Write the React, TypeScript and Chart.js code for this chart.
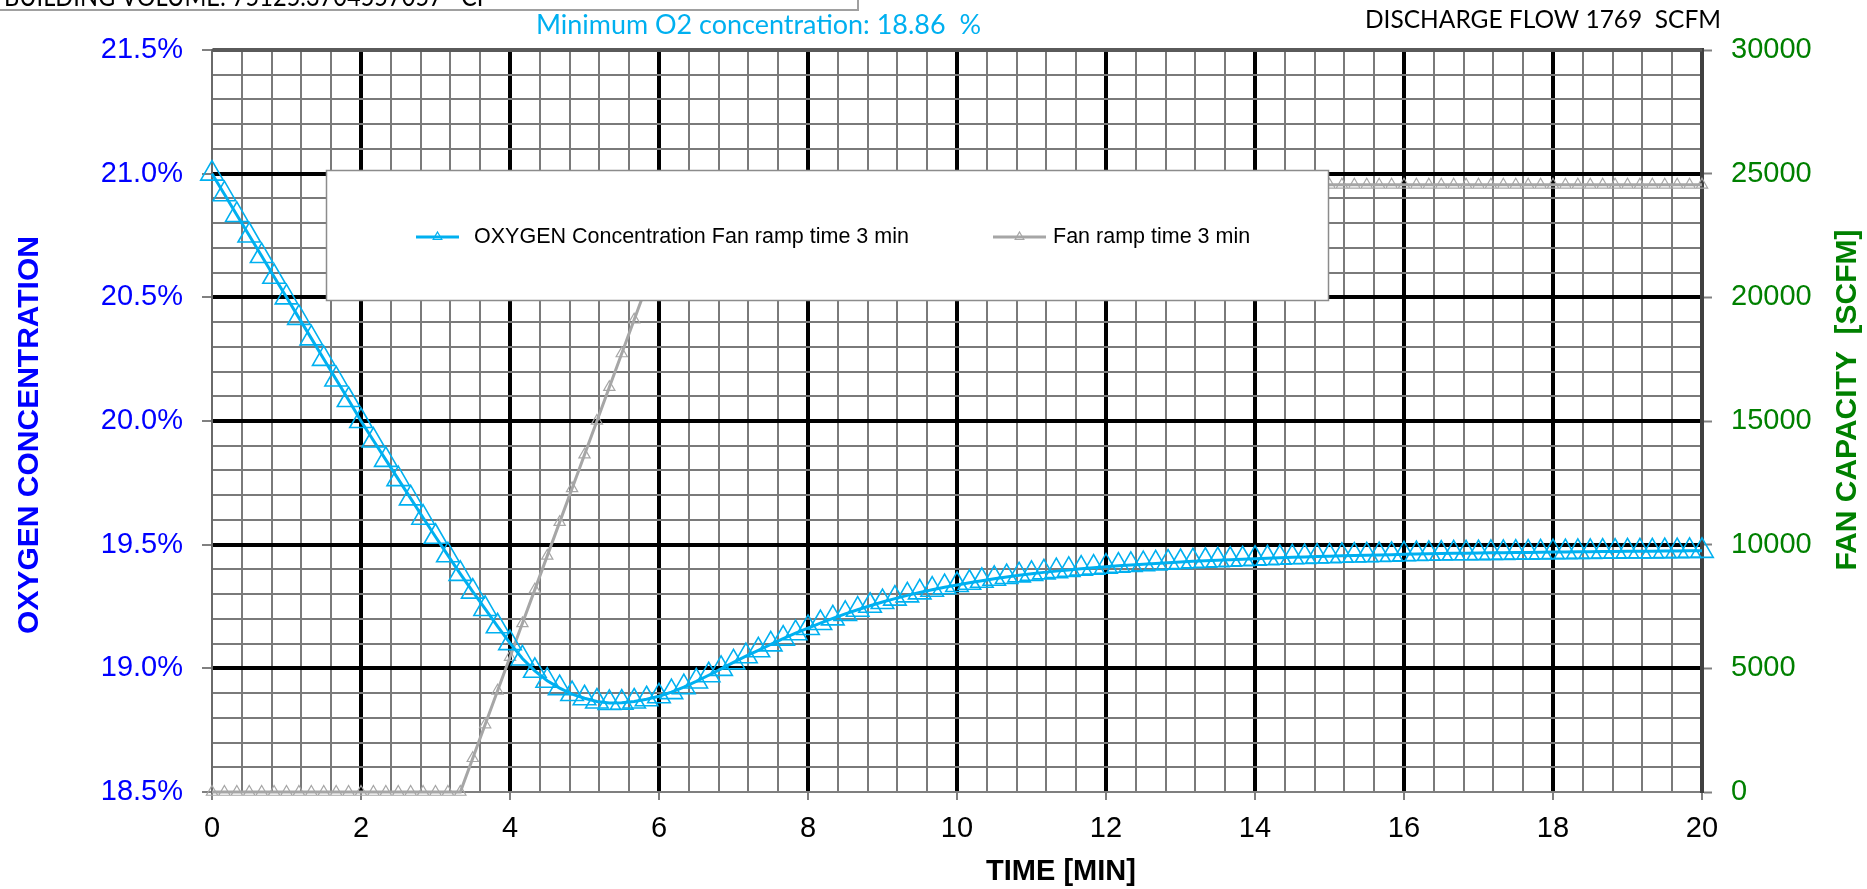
import React, { useEffect, useRef } from 'react';
import { Chart, registerables } from 'chart.js';
Chart.register(...registerables);

// ---------------- data ----------------
const TIME_SEC = [
  0, 10, 20, 30, 40, 50, 60, 70, 80, 90, 100, 110, 120,
  130, 140, 150, 160, 170, 180, 190, 200, 210, 220, 230, 240,
  250, 260, 270, 280, 290, 300, 310, 320, 330, 340, 350, 360,
  370, 380, 390, 400, 410, 420, 430, 440, 450, 460, 470, 480,
  490, 500, 510, 520, 530, 540, 550, 560, 570, 580, 590, 600,
  610, 620, 630, 640, 650, 660, 670, 680, 690, 700, 710, 720,
  730, 740, 750, 760, 770, 780, 790, 800, 810, 820, 830, 840,
  850, 860, 870, 880, 890, 900, 910, 920, 930, 940, 950, 960,
  970, 980, 990, 1000, 1010, 1020, 1030, 1040, 1050, 1060, 1070, 1080,
  1090, 1100, 1110, 1120, 1130, 1140, 1150, 1160, 1170, 1180, 1190, 1200,
];

const O2_PCT = [
  21.0, 20.917, 20.833, 20.75, 20.667, 20.583, 20.5, 20.417, 20.334, 20.251, 20.168, 20.085, 20.0,
  19.921, 19.843, 19.765, 19.687, 19.609, 19.532, 19.457, 19.382, 19.31, 19.24, 19.17, 19.102,
  19.04, 18.99, 18.95, 18.92, 18.896, 18.879, 18.866, 18.86, 18.861, 18.866, 18.875, 18.887,
  18.904, 18.924, 18.947, 18.972, 18.998, 19.024, 19.049, 19.073, 19.097, 19.12, 19.142, 19.163,
  19.183, 19.202, 19.22, 19.237, 19.253, 19.268, 19.282, 19.295, 19.307, 19.318, 19.328, 19.337,
  19.346, 19.354, 19.362, 19.369, 19.376, 19.382, 19.388, 19.393, 19.398, 19.403, 19.407, 19.411,
  19.415, 19.418, 19.421, 19.424, 19.427, 19.43, 19.433, 19.435, 19.437, 19.439, 19.441, 19.443,
  19.445, 19.447, 19.449, 19.45, 19.452, 19.453, 19.455, 19.456, 19.457, 19.458, 19.459, 19.461,
  19.462, 19.463, 19.464, 19.465, 19.465, 19.466, 19.467, 19.467, 19.468, 19.468, 19.469, 19.47,
  19.47, 19.471, 19.471, 19.472, 19.472, 19.473, 19.473, 19.473, 19.474, 19.474, 19.475, 19.475,
];

const FAN_SCFM = [
  0, 0, 0, 0, 0, 0, 0, 0, 0, 0, 0, 0, 0,
  0, 0, 0, 0, 0, 0, 0, 0, 1364, 2728, 4092, 5456,
  6819, 8183, 9547, 10911, 12275, 13639, 15003, 16366, 17730, 19094, 20458, 21822,
  23186, 24550, 24550, 24550, 24550, 24550, 24550, 24550, 24550, 24550, 24550, 24550,
  24550, 24550, 24550, 24550, 24550, 24550, 24550, 24550, 24550, 24550, 24550, 24550,
  24550, 24550, 24550, 24550, 24550, 24550, 24550, 24550, 24550, 24550, 24550, 24550,
  24550, 24550, 24550, 24550, 24550, 24550, 24550, 24550, 24550, 24550, 24550, 24550,
  24550, 24550, 24550, 24550, 24550, 24550, 24550, 24550, 24550, 24550, 24550, 24550,
  24550, 24550, 24550, 24550, 24550, 24550, 24550, 24550, 24550, 24550, 24550, 24550,
  24550, 24550, 24550, 24550, 24550, 24550, 24550, 24550, 24550, 24550, 24550, 24550,
];

const SERIES_NAMES = ['OXYGEN Concentration Fan ramp time 3 min', 'Fan ramp time 3 min'];
const X_TITLE = 'TIME [MIN]';
const Y_TITLE = 'OXYGEN CONCENTRATION';
const Y2_TITLE = 'FAN CAPACITY  [SCFM]';
const TOP_BOX_TEXT = 'BUILDING VOLUME: 75125.3704557057   CF';
const MIN_TEXT = 'Minimum O2 concentration: 18.86  %';
const FLOW_TEXT = 'DISCHARGE FLOW 1769  SCFM';

const BLUE = '#00B0F0';
const GRAY = '#A6A6A6';
const FONT = '"Liberation Sans", Arial, sans-serif';

function drawFitted(ctx: CanvasRenderingContext2D, text: string, x: number, y: number, width: number, font: string, color: string) {
  ctx.save();
  ctx.font = font;
  ctx.fillStyle = color;
  ctx.textAlign = 'left';
  ctx.textBaseline = 'alphabetic';
  const w = ctx.measureText(text).width;
  ctx.translate(x, y);
  ctx.scale(width / w, 1);
  ctx.fillText(text, 0, 0);
  ctx.restore();
}

function tri(ctx: CanvasRenderingContext2D, x: number, y: number, r: number) {
  ctx.beginPath();
  ctx.moveTo(x, y - r);
  ctx.lineTo(x + r * Math.sin((2 * Math.PI) / 3), y - r * Math.cos((2 * Math.PI) / 3));
  ctx.lineTo(x + r * Math.sin((4 * Math.PI) / 3), y - r * Math.cos((4 * Math.PI) / 3));
  ctx.closePath();
  ctx.stroke();
}

const overlayPlugin = {
  id: 'overlay',
  afterDatasetsDraw(chart: any) {
    const ctx: CanvasRenderingContext2D = chart.ctx;
    // legend box
    ctx.save();
    ctx.fillStyle = '#ffffff';
    ctx.fillRect(326, 170, 1002, 130);
    ctx.strokeStyle = '#8c8c8c';
    ctx.lineWidth = 1.5;
    ctx.strokeRect(326.5, 170.5, 1002, 130);
    const ly = 237;
    const items = [
      { x0: 416, x1: 459, tx: 474, color: BLUE, label: SERIES_NAMES[0] },
      { x0: 993, x1: 1046, tx: 1053, color: GRAY, label: SERIES_NAMES[1] },
    ];
    for (const it of items) {
      ctx.strokeStyle = it.color;
      ctx.lineWidth = 3;
      ctx.beginPath();
      ctx.moveTo(it.x0, ly);
      ctx.lineTo(it.x1, ly);
      ctx.stroke();
      ctx.lineWidth = 1.2;
      tri(ctx, (it.x0 + it.x1) / 2, ly, 5);
      ctx.fillStyle = '#000';
      ctx.font = `21.5px ${FONT}`;
      ctx.textBaseline = 'middle';
      ctx.textAlign = 'left';
      ctx.fillText(it.label, it.tx, ly);
    }
    ctx.restore();
  },
  afterDraw(chart: any) {
    const ctx: CanvasRenderingContext2D = chart.ctx;
    const area = chart.chartArea;
    ctx.save();
    // top border
    ctx.strokeStyle = '#5a5a5a';
    ctx.lineWidth = 3;
    ctx.beginPath();
    ctx.moveTo(area.left, area.top);
    ctx.lineTo(area.right, area.top);
    ctx.stroke();

    // building volume box
    ctx.fillStyle = '#fff';
    ctx.fillRect(-2, -30, 860, 40);
    ctx.strokeStyle = '#a0a0a0';
    ctx.lineWidth = 2;
    ctx.strokeRect(-2, -30, 860, 40);
    drawFitted(ctx, TOP_BOX_TEXT, 4, 6, 486, `27px Lato, "Open Sans", sans-serif`, '#000');
    drawFitted(ctx, MIN_TEXT, 536, 34, 445, `26px Lato, "Open Sans", sans-serif`, BLUE);
    drawFitted(ctx, FLOW_TEXT, 1365, 28, 356, `25px Lato, "Open Sans", sans-serif`, '#000');

    // axis titles
    ctx.textAlign = 'center';
    ctx.textBaseline = 'middle';
    ctx.font = `bold 30px ${FONT}`;
    ctx.fillStyle = '#0000FF';
    ctx.save();
    ctx.translate(30, 435);
    ctx.rotate(-Math.PI / 2);
    ctx.fillText(Y_TITLE, 0, 0);
    ctx.restore();

    ctx.fillStyle = '#008000';
    ctx.save();
    ctx.translate(1848, 400);
    ctx.rotate(-Math.PI / 2);
    ctx.fillText(Y2_TITLE, 0, 0);
    ctx.restore();

    ctx.fillStyle = '#000';
    ctx.font = `bold 29px ${FONT}`;
    ctx.fillText(X_TITLE, 1061, 872);
    ctx.restore();
  },
};

const isMajorX = (v: number) => Math.round(v * 10) % 20 === 0;
const isMajorY = (v: number) => Math.round(v * 10) % 5 === 0;

export default function App() {
  const canvasRef = useRef<HTMLCanvasElement | null>(null);

  useEffect(() => {
    document.body.style.margin = '0';
    document.body.style.overflow = 'hidden';
    const canvas = canvasRef.current;
    if (!canvas) return;

    const o2Points = TIME_SEC.map((s, i) => ({ x: s / 60, y: O2_PCT[i] }));
    const fanPoints = TIME_SEC.map((s, i) => ({ x: s / 60, y: FAN_SCFM[i] }));

    const chart = new Chart(canvas, {
      type: 'line',
      data: {
        datasets: [
          {
            label: SERIES_NAMES[0],
            data: o2Points,
            yAxisID: 'y',
            borderColor: BLUE,
            borderWidth: 3,
            pointStyle: 'triangle',
            pointRadius: 13,
            pointBorderWidth: 1.6,
            pointBorderColor: BLUE,
            pointBackgroundColor: 'rgba(0,0,0,0)',
            backgroundColor: 'rgba(0,0,0,0)',
            tension: 0,
            clip: false as any,
          },
          {
            label: SERIES_NAMES[1],
            data: fanPoints,
            yAxisID: 'y2',
            borderColor: GRAY,
            borderWidth: 3,
            pointStyle: 'triangle',
            pointRadius: 6.5,
            pointBorderWidth: 1.2,
            pointBorderColor: GRAY,
            pointBackgroundColor: 'rgba(0,0,0,0)',
            backgroundColor: 'rgba(0,0,0,0)',
            tension: 0,
            clip: false as any,
          },
        ],
      },
      options: {
        responsive: false,
        animation: false,
        events: [],
        layout: { padding: { top: 50, left: 0, right: 0, bottom: 0 } },
        plugins: {
          legend: { display: false },
          tooltip: { enabled: false },
          title: { display: false },
        },
        scales: {
          x: {
            type: 'linear',
            min: 0,
            max: 20,
            afterFit: (s: any) => { s.height = 97; },
            ticks: {
              stepSize: 0.4,
              autoSkip: false,
              maxRotation: 0,
              padding: 12,
              color: '#000',
              font: { family: FONT, size: 29 },
              callback: (v: any) => (isMajorX(Number(v)) ? String(Math.round(Number(v))) : ''),
            },
            grid: {
              color: (c: any) => {
                const v = c.tick ? c.tick.value : 0;
                if (Math.abs(v) < 1e-6) return 'rgba(0,0,0,0)';
                if (Math.abs(v - 20) < 1e-6) return '#404040';
                return isMajorX(v) ? '#000' : '#7a7a7a';
              },
              lineWidth: (c: any) => {
                const v = c.tick ? c.tick.value : 0;
                return isMajorX(v) ? 4 : 2;
              },
              tickColor: (c: any) => {
                const v = c.tick ? c.tick.value : 0;
                return isMajorX(v) ? '#808080' : 'rgba(0,0,0,0)';
              },
              tickWidth: 2,
              tickLength: 8,
            },
            border: { display: true, color: '#7f7f7f', width: 2 },
          },
          y: {
            type: 'linear',
            position: 'left',
            min: 18.5,
            max: 21.5,
            afterFit: (s: any) => { s.width = 212; },
            ticks: {
              stepSize: 0.1,
              autoSkip: false,
              padding: 19,
              color: '#0000FF',
              font: { family: FONT, size: 29 },
              callback: (v: any) => (isMajorY(Number(v)) ? Number(v).toFixed(1) + '%' : ''),
            },
            grid: {
              color: (c: any) => {
                const v = c.tick ? c.tick.value : 0;
                if (Math.abs(v - 18.5) < 1e-6) return 'rgba(0,0,0,0)';
                if (Math.abs(v - 21.5) < 1e-6) return '#5a5a5a';
                return isMajorY(v) ? '#000' : '#7a7a7a';
              },
              lineWidth: (c: any) => {
                const v = c.tick ? c.tick.value : 0;
                return isMajorY(v) ? 4 : 2;
              },
              tickColor: (c: any) => {
                const v = c.tick ? c.tick.value : 0;
                return isMajorY(v) ? '#808080' : 'rgba(0,0,0,0)';
              },
              tickWidth: 2,
              tickLength: 10,
            },
            border: { display: true, color: '#6a6a6a', width: 2 },
          },
          y2: {
            type: 'linear',
            position: 'right',
            min: 0,
            max: 30000,
            afterFit: (s: any) => { s.width = 165; },
            ticks: {
              stepSize: 5000,
              autoSkip: false,
              padding: 19,
              color: '#008000',
              font: { family: FONT, size: 29 },
              callback: (v: any) => String(v),
            },
            grid: {
              drawOnChartArea: false,
              tickColor: '#808080',
              tickWidth: 2,
              tickLength: 10,
            },
            border: { display: true, color: '#404040', width: 4 },
          },
        },
      },
      plugins: [overlayPlugin],
    } as any);

    return () => chart.destroy();
  }, []);

  return (
    <div style={{ width: 1867, height: 889, position: 'relative', background: '#fff' }}>
      <canvas ref={canvasRef} width={1867} height={889} style={{ display: 'block' }} />
    </div>
  );
}
